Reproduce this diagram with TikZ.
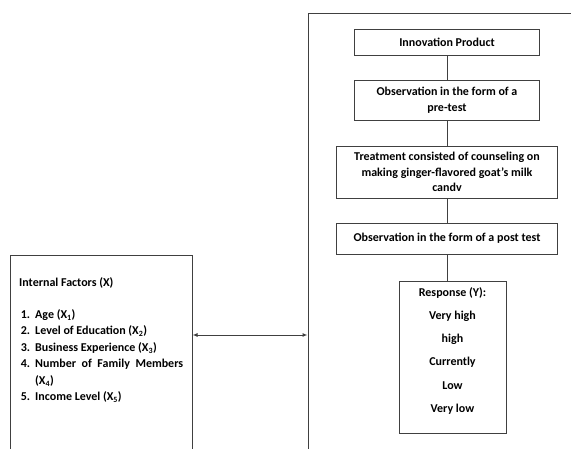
\documentclass[tikz,border=0pt]{standalone}
\usepackage{fontspec}
\setmainfont{Carlito}
\usepackage{enumitem}
\usetikzlibrary{arrows.meta}

\begin{document}
\begin{tikzpicture}[
  x=1pt, y=-1pt,
  frame/.style={draw=black!75, line width=1pt, inner sep=0pt},
  stepbox/.style={draw=black!75, line width=1pt, inner sep=0pt, align=center,
                  font=\fontsize{12}{15.5}\selectfont\bfseries},
  link/.style={draw=black!75, line width=1pt},
  twoarr/.style={{Latex[length=5pt,width=4pt]}-{Latex[length=5pt,width=4pt]}, line width=1pt, black!75}
]
\useasboundingbox (0,0) rectangle (571,448);

%% Outer frames (cut by the page edge)
\node[frame, minimum width=182pt, minimum height=215pt] (factors) at (101,362.5) {};
\node[frame, minimum width=282pt, minimum height=457pt] (process) at (449,241.5) {};

%% Internal factors text
\node[anchor=base west, inner sep=0pt, font=\fontsize{12}{14}\selectfont\bfseries]
  (title) at (19,286) {Internal Factors (X)};
\node[anchor=north west, inner sep=0pt, text width=164pt, align=justify,
      font=\fontsize{12}{16.5}\selectfont\bfseries] (items) at (19,301.5) {%
  \begin{enumerate}[label=\arabic*., leftmargin=16pt, labelsep=5pt,
                    itemsep=0pt, topsep=0pt, parsep=0pt, partopsep=0pt]
    \item Age (X\textsubscript{1})
    \item Level of Education (X\textsubscript{2})
    \item Business Experience (X\textsubscript{3})
    \item Number of Family Members (X\textsubscript{4})
    \item Income Level (X\textsubscript{5})
  \end{enumerate}};

%% Process steps
\node[stepbox, minimum width=185pt, minimum height=26pt] (prod)  at (447,42)    {Innovation Product};
\node[stepbox, minimum width=185pt, minimum height=40pt] (pre)   at (447,100)   {Observation in the form of a\\pre-test};
\node[stepbox, minimum width=221pt, minimum height=52pt] (treat) at (447,172)   {Treatment consisted of counseling on\\making ginger-flavored goat's milk\\candv};
\node[stepbox, minimum width=221pt, minimum height=31pt] (post)  at (447,238.5) {Observation in the form of a post test};
\node[stepbox, minimum width=107pt, minimum height=152pt,
      font=\fontsize{12}{23.3}\selectfont\bfseries] (resp) at (452.5,357)
  {Response (Y):\\Very high\\high\\Currently\\Low\\Very low\\[-9pt]};

\draw[link] (prod) -- (pre);
\draw[link] (pre) -- (treat);
\draw[link] (treat) -- (post);
\draw[link] (post.south) -- (post.south |- resp.north);

%% Two-way link
\coordinate (mid) at (250,335);
\draw[twoarr] (factors.east |- mid) -- (process.west |- mid);
\end{tikzpicture}
\end{document}
